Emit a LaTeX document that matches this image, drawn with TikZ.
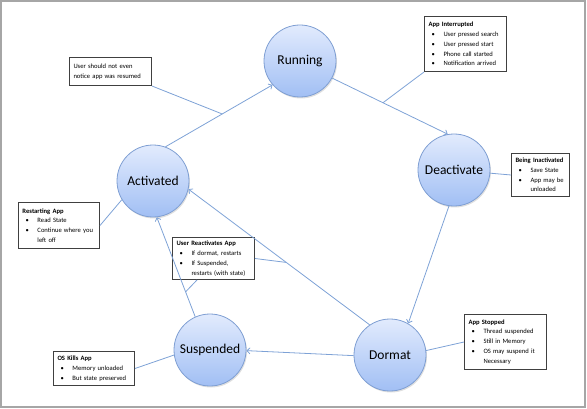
\documentclass[tikz,border=0pt]{standalone}
\usepackage{fontspec}
\setmainfont{Carlito}
\usetikzlibrary{arrows.meta, shadows}

\definecolor{bordbleu}{HTML}{7F9FD3}
\definecolor{hautbleu}{HTML}{E2EBFD}
\definecolor{basbleu}{HTML}{A1BFF4}
\definecolor{traitbleu}{HTML}{7EA2D6}

\newcommand\puce{\hspace*{3pt}\makebox[12pt][l]{\textbullet}}
\newcommand\suite{\hspace*{15pt}}

\begin{document}
\begin{tikzpicture}[x=1pt, y=-1pt,
    etat/.style={circle, minimum size=72pt, inner sep=0pt, draw=bordbleu, line width=0.8pt,
      top color=hautbleu, bottom color=basbleu,
      drop shadow={opacity=0.25, shadow xshift=1pt, shadow yshift=-1.5pt},
      font=\fontsize{13.5}{16}\selectfont},
    encadre/.style={draw=black!75, line width=1pt, fill=white, align=left,
      inner xsep=4pt, inner ysep=0pt, anchor=north west, font=\fontsize{6.6}{9.8}\selectfont},
    trait/.style={draw=traitbleu, line width=0.8pt},
    fleche/.style={trait, -{Straight Barb[length=3pt, width=6pt]}}]

  \useasboundingbox (0,0) rectangle (587,409);
  \draw[gray!70, line width=1.5pt] (1,1) rectangle (585,407);

  % Cercles
  \foreach \nom/\texte/\x/\y in {running/Running/300/61, deactivate/Deactivate/454/170,
    activated/Activated/153/181, suspended/Suspended/210/350, dormat/Dormat/390/355}
    \node[etat] (\nom) at (\x,\y) {\texte};

  % Encadrés
  \node[encadre, text width=74pt, minimum height=55pt] (interrompu) at (424,16)
    {\textbf{App Interrupted}\\ \puce User pressed search\\ \puce User pressed start\\
     \puce Phone call started\\ \puce Notification arrived};
  \node[encadre, text width=50pt, minimum height=43pt] (inactive) at (511,153)
    {\textbf{Being Inactivated}\\ \puce Save State\\ \puce App may be\\ \suite unloaded};
  \node[encadre, text width=74pt, minimum height=28pt] (reprise) at (69,57)
    {User should not even\\ notice app was resumed};
  \node[encadre, text width=73pt, minimum height=46pt] (redemarrage) at (18,202)
    {\textbf{Restarting App}\\ \puce Read State\\ \puce Continue where you\\ \suite left off};
  \node[encadre, text width=74pt, minimum height=42pt] (reactivation) at (172,237)
    {\textbf{User Reactivates App}\\ \puce If dormat, restarts\\ \puce If Suspended,\\ \suite restarts (with state)};
  \node[encadre, text width=73pt, minimum height=34pt] (tue) at (53,351)
    {\textbf{OS Kills App}\\ \puce Memory unloaded\\ \puce But state preserved};
  \node[encadre, text width=74pt, minimum height=55pt] (arret) at (464,314)
    {\textbf{App Stopped}\\ \puce Thread suspended\\ \puce Still in Memory\\
     \puce OS may suspend it\\ \suite Necessary};

  % Flèches
  \draw[fleche] (activated.70) -- coordinate[pos=0.53] (milieu1) (running.221);
  \draw[fleche] (running.332) -- coordinate[pos=0.44] (milieu2) (deactivate.100);
  \draw[fleche] (deactivate.262) -- (dormat.60);
  \draw[fleche] (dormat.181) -- (suspended.359);
  \draw[fleche] (suspended.114) -- coordinate[pos=0.25] (milieu4) (activated.276);
  \draw[fleche] (dormat.124) -- coordinate[pos=0.46] (milieu3) (activated.347);

  % Traits de rappel
  \draw[trait] (reprise.south east) -- (milieu1);
  \draw[trait] (interrompu.south west) -- (milieu2);
  \draw[trait] (deactivate) -- (inactive.west);
  \draw[trait] (redemarrage.east) -- (activated.211);
  \draw[trait] (reactivation.east) -- (milieu3);
  \draw[trait] ([xshift=25pt]reactivation.south west) -- (milieu4);
  \draw[trait] (tue.east) -- (suspended.188);
  \draw[trait] (dormat.7) -- (arret.west);
\end{tikzpicture}
\end{document}
